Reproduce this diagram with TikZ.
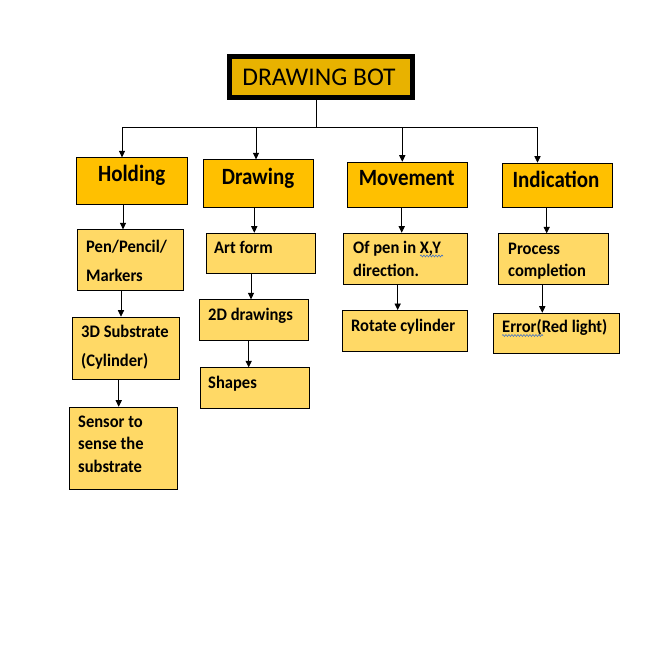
\documentclass[tikz,border=0pt]{standalone}
\usepackage{fontspec}
\setmainfont{Carlito}
\newfontfamily\catfont[FakeStretch=0.9]{Carlito}
\newfontfamily\subfont[FakeStretch=0.94]{Carlito}
\usetikzlibrary{arrows.meta,decorations.pathmorphing}
\definecolor{titlefill}{RGB}{232,178,0}
\definecolor{catfill}{RGB}{255,192,0}
\definecolor{subfill}{RGB}{255,217,102}
\definecolor{spell}{RGB}{68,114,196}
\tikzset{
  titlebox/.style={draw=black, fill=titlefill, line width=4.6pt, inner sep=0pt, anchor=north west},
  catbox/.style={draw=black, fill=catfill, line width=0.9pt, inner sep=0pt, anchor=north west},
  subbox/.style={draw=black, fill=subfill, line width=0.9pt, inner sep=0pt, anchor=north west},
  titletxt/.style={font=\fontsize{25.5}{30}\selectfont, anchor=base, inner sep=0pt},
  cattxt/.style={font=\catfont\fontsize{23.3}{27}\selectfont\bfseries, anchor=base, inner sep=0pt},
  subtxt/.style={font=\subfont\fontsize{17.6}{21}\selectfont\bfseries, anchor=base west, inner sep=0pt},
  conn/.style={draw=black, line width=0.8pt},
  arr/.style={conn, -{Triangle[length=6.5pt,width=6.2pt]}},
  wavy/.style={draw=spell, line width=0.6pt, decorate, decoration={snake, amplitude=0.9pt, segment length=3pt}}
}
\begin{document}
\begin{tikzpicture}[x=1pt,y=-1pt]
\useasboundingbox[fill=white] (0,0) rectangle (654,663);
% title
\node[titlebox, minimum width=183.4pt, minimum height=41.4pt] (title) at (227,54) {};
\node[titletxt] (titlet) at (319,86) {DRAWING BOT};
% categories
\node[catbox, minimum width=110.7pt, minimum height=46.7pt] (hold) at (76,157.3) {};
\node[catbox, minimum width=110pt, minimum height=47.4pt] (draw) at (203.3,159.3) {};
\node[catbox, minimum width=119.4pt, minimum height=45.6pt] (move) at (347.3,161.7) {};
\node[catbox, minimum width=110pt, minimum height=44.6pt] (ind) at (501.7,162.7) {};
\node[cattxt] (holdt) at (131.7,182) {Holding};
\node[cattxt] (drawt) at (258,184) {Drawing};
\node[cattxt] (movet) at (406.7,185.5) {Movement};
\node[cattxt] (indt) at (556,187.5) {Indication};
% Holding column
\node[subbox, minimum width=106.6pt, minimum height=60.7pt] (pen) at (76.7,229.3) {};
\node[subbox, minimum width=107.6pt, minimum height=62.3pt] (sub) at (71.7,316.7) {};
\node[subbox, minimum width=108pt, minimum height=82.3pt] (sens) at (69.3,406.7) {};
\node[subtxt] (pent1) at (86,252) {Pen/Pencil/};
\node[subtxt] (pent2) at (86,281) {Markers};
\node[subtxt] (subt1) at (81,337) {3D Substrate};
\node[subtxt] (subt2) at (81,366) {(Cylinder)};
\node[subtxt] (senst1) at (78,427) {Sensor to};
\node[subtxt] (senst2) at (78,449.5) {sense the};
\node[subtxt] (senst3) at (78,472) {substrate};
% Drawing column
\node[subbox, minimum width=109.6pt, minimum height=40.6pt] (art) at (205.7,232.7) {};
\node[subbox, minimum width=109.6pt, minimum height=40.7pt] (twod) at (198.7,299.3) {};
\node[subbox, minimum width=109.6pt, minimum height=41pt] (shp) at (199.7,367.3) {};
\node[subtxt] (artt) at (214,253) {Art form};
\node[subtxt] (twodt) at (208,320.7) {2D drawings};
\node[subtxt] (shpt) at (208,388.5) {Shapes};
% Movement column
\node[subbox, minimum width=123.4pt, minimum height=51.6pt] (ofpen) at (343.3,232.7) {};
\node[subbox, minimum width=125pt, minimum height=41pt] (rot) at (341.7,310) {};
\node[subtxt] (ofpent1) at (353,253.5) {Of pen in X,Y};
\node[subtxt] (ofpent2) at (353,276) {direction.};
\node[subtxt] (rott) at (351,331) {Rotate cylinder};
% Indication column
\node[subbox, minimum width=110pt, minimum height=51pt] (proc) at (498.3,233.3) {};
\node[subbox, minimum width=126.6pt, minimum height=40.6pt] (err) at (492.7,312.7) {};
\node[subtxt] (proct1) at (508,254) {Process};
\node[subtxt] (proct2) at (508,276) {completion};
\node[subtxt] (errt) at (502,332) {Error(Red light)};
% spell-check marks
\draw[wavy] (420,256) -- (443,256);
\draw[wavy] (502,335.5) -- (543,335.5);
% bus
\coordinate (bus) at (316.7,127.3);
\coordinate (busL) at (122,127.3);
\coordinate (busR) at (537.5,127.3);
\draw[conn] (title.south -| bus) -- (bus);
\draw[conn] (busL) -- (busR);
\draw[arr] (busL) -- (hold.north -| busL);
\draw[arr] (bus -| 256,0) -- (draw.north -| 256,0);
\draw[arr] (bus -| 402.3,0) -- (move.north -| 402.3,0);
\draw[arr] (busR) -- (ind.north -| busR);
% column arrows
\draw[arr] (hold.south -| 123,0) -- (pen.north -| 123,0);
\draw[arr] (pen.south -| 121,0) -- (sub.north -| 121,0);
\draw[arr] (sub.south -| 118.7,0) -- (sens.north -| 118.7,0);
\draw[arr] (draw.south -| 254.3,0) -- (art.north -| 254.3,0);
\draw[arr] (art.south -| 251,0) -- (twod.north -| 251,0);
\draw[arr] (twod.south -| 248.7,0) -- (shp.north -| 248.7,0);
\draw[arr] (move.south -| 401.7,0) -- (ofpen.north -| 401.7,0);
\draw[arr] (ofpen.south -| 397.7,0) -- (rot.north -| 397.7,0);
\draw[arr] (ind.south -| 546.7,0) -- (proc.north -| 546.7,0);
\draw[arr] (proc.south -| 542.3,0) -- (err.north -| 542.3,0);
\end{tikzpicture}
\end{document}
